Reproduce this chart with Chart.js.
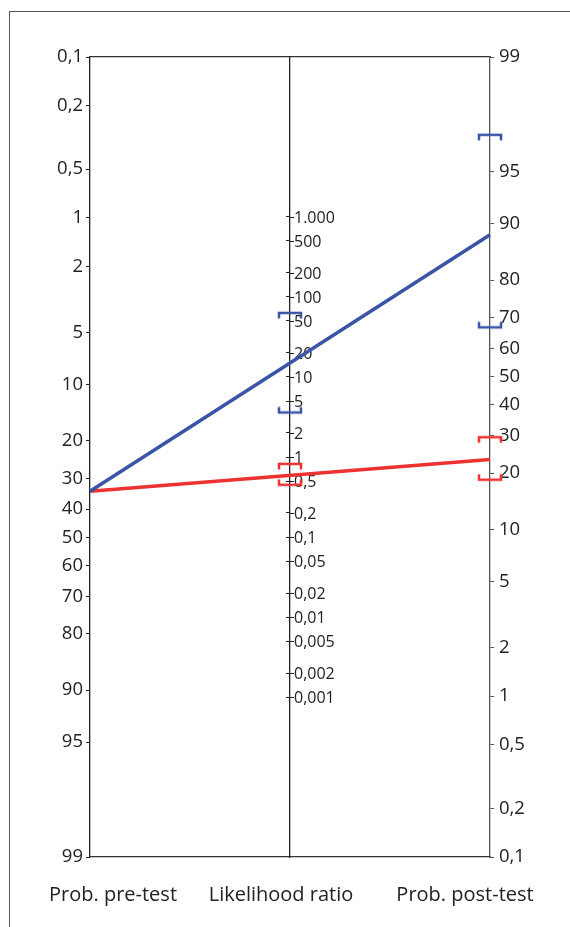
<!DOCTYPE html>
<html>
<head>
<meta charset="utf-8">
<script src="https://cdn.jsdelivr.net/npm/chart.js@4/dist/chart.umd.min.js"></script>
<style>
  html, body { margin: 0; padding: 0; background: #fff; }
  #wrap { position: relative; width: 570px; height: 927px; overflow: hidden; }
  #frame { position: absolute; left: 9px; top: 11px; width: 600px; height: 960px;
           border-left: 1.5px solid #555; border-top: 1.5px solid #555; }
  #c { position: absolute; left: 0; top: 0; }
</style>
</head>
<body>
<div id="wrap"><div id="frame"></div><canvas id="c" width="570" height="927"></canvas></div>
<script>
// Tick values of the three nomogram scales
const probTicks = [0.1, 0.2, 0.5, 1, 2, 5, 10, 20, 30, 40, 50, 60, 70, 80, 90, 95, 99];
const lrTicks = [1000, 500, 200, 100, 50, 20, 10, 5, 2, 1, 0.5, 0.2, 0.1, 0.05, 0.02, 0.01, 0.005, 0.002, 0.001];
const axisTitles = ['Prob. pre-test', 'Likelihood ratio', 'Prob. post-test'];

// Pre-test probability (%) shared by both tests
const preTest = 34;
// Positive / negative likelihood ratios with 95% CI
const lrValues = [15, 0.59];
const lrLower = [3.6, 0.45];
const lrUpper = [63, 0.82];
// Post-test probabilities (%) with 95% CI
const postTest = [88.5, 23.3];
const postLower = [67, 18.5];
const postUpper = [97, 29.5];

const seriesColors = ['#3a55a6', '#ee3232'];

// ---- scale helpers -------------------------------------------------------
const logit = p => Math.log(p / (100 - p));
const LMIN = logit(probTicks[0]);
const LMAX = logit(probTicks[probTicks.length - 1]);
const RANGE = LMAX - LMIN;

// Every mark is plotted on the pre-test axis; these map the other two
// axes' values onto it (all three share the same vertical extent).
const postOnPre = p => LMIN + LMAX - logit(p);
const lrOnPre = lr => LMIN + (RANGE - Math.log(lr)) / 2;

const fmt = v => v >= 1000
  ? String(v).replace(/\B(?=(\d{3})+$)/g, '.')
  : String(v).replace('.', ',');

// Bracket caps for the confidence limits
function cap(color, opening) {
  const w = 26, h = 14, c = document.createElement('canvas');
  c.width = w; c.height = h;
  const g = c.getContext('2d');
  g.strokeStyle = color; g.lineWidth = 2.5; g.lineCap = 'butt'; g.lineJoin = 'miter';
  const mid = h / 2, d = opening === 'down' ? 5.5 : -5.5;
  g.beginPath();
  g.moveTo(2, mid + d); g.lineTo(2, mid); g.lineTo(w - 2, mid); g.lineTo(w - 2, mid + d);
  g.stroke();
  return c;
}

const FONT = 'Open Sans';
const INK = '#222';

// Likelihood-ratio labels sit to the right of the centre axis
const lrLabels = {
  id: 'lrLabels',
  beforeDatasetsDraw(chart) {
    const s = chart.scales.yLR;
    const x = Math.round(chart.scales.x.getPixelForValue(1));
    const ctx = chart.ctx;
    ctx.save();
    ctx.font = '16px "' + FONT + '"';
    ctx.fillStyle = INK;
    ctx.strokeStyle = INK;
    ctx.lineWidth = 1;
    ctx.textAlign = 'left';
    ctx.textBaseline = 'middle';
    s.ticks.forEach((t, i) => {
      const y = Math.round(s.getPixelForValue(t.value)) + 0.5;
      ctx.beginPath(); ctx.moveTo(x, y); ctx.lineTo(x + 4, y); ctx.stroke();
      ctx.fillText(fmt(lrTicks[i]), x + 4, y + 1);
    });
    ctx.restore();
  }
};

const lineSets = lrValues.map((lr, i) => ({
  type: 'line',
  label: i === 0 ? 'LR+' : 'LR-',
  data: [{ x: 0, y: logit(preTest) }, { x: 2, y: postOnPre(postTest[i]) }],
  borderColor: seriesColors[i],
  borderWidth: 3.5,
  pointRadius: 0,
  yAxisID: 'yPre',
  clip: false,
  order: 1
}));

const capSets = lrValues.map((lr, i) => ({
  type: 'scatter',
  label: (i === 0 ? 'LR+' : 'LR-') + ' CI',
  data: [
    { x: 1, y: lrOnPre(lrUpper[i]) },
    { x: 1, y: lrOnPre(lrLower[i]) },
    { x: 2, y: postOnPre(postUpper[i]) },
    { x: 2, y: postOnPre(postLower[i]) }
  ],
  pointStyle: [cap(seriesColors[i], 'down'), cap(seriesColors[i], 'up'),
               cap(seriesColors[i], 'down'), cap(seriesColors[i], 'up')],
  pointRadius: 5,
  showLine: false,
  yAxisID: 'yPre',
  clip: false,
  order: 2
}));

const probAxis = (position, reverse, width, borderColor, pad) => ({
  type: 'linear',
  position,
  reverse,
  min: LMIN,
  max: LMAX,
  afterBuildTicks: s => { s.ticks = probTicks.map(p => ({ value: logit(p) })); },
  afterFit: s => { s.width = width; },
  border: { display: true, color: borderColor, width: 1.3 },
  grid: { display: true, drawOnChartArea: false, drawTicks: true, tickLength: 4, color: borderColor },
  ticks: {
    autoSkip: false,
    padding: pad,
    color: INK,
    font: { family: FONT, size: 18.5 },
    callback: (v, i) => fmt(probTicks[i])
  }
});

// Horizontal positions of the three axis titles (in x-axis units)
const titleAt = [0.115, 0.955, 1.875];

new Chart(document.getElementById('c'), {
  data: { datasets: [...lineSets, ...capSets] },
  options: {
    responsive: false,
    animation: false,
    events: [],
    layout: { padding: 0 },
    plugins: { legend: { display: false }, tooltip: { enabled: false } },
    scales: {
      x: {
        type: 'linear', position: 'bottom', min: 0, max: 2,
        afterBuildTicks: s => { s.ticks = titleAt.map(v => ({ value: v })); },
        afterFit: s => { s.height = 70; },
        border: { display: true, color: '#333', width: 1.3 },
        grid: { display: false },
        ticks: {
          autoSkip: false, maxRotation: 0, padding: 18, color: INK,
          font: { family: FONT, size: 20 },
          callback: (v, i) => axisTitles[i]
        }
      },
      xTop: {
        type: 'linear', position: 'top', min: 0, max: 2,
        afterFit: s => { s.height = 57; },
        border: { display: true, color: '#333', width: 1.3 },
        grid: { display: false },
        ticks: { display: false }
      },
      yPre: probAxis('left', true, 90, '#222', 3),
      yPost: probAxis('right', false, 80, '#555', 5),
      yLR: {
        type: 'linear', position: { x: 1 }, min: -RANGE, max: RANGE,
        afterBuildTicks: s => { s.ticks = lrTicks.map(v => ({ value: Math.log(v) })); },
        border: { display: true, color: '#222', width: 1.3 },
        grid: { display: true, drawOnChartArea: false, drawTicks: true, tickLength: 3, color: '#222' },
        ticks: { display: false, autoSkip: false }
      }
    }
  },
  plugins: [lrLabels]
});
</script>
</body>
</html>
